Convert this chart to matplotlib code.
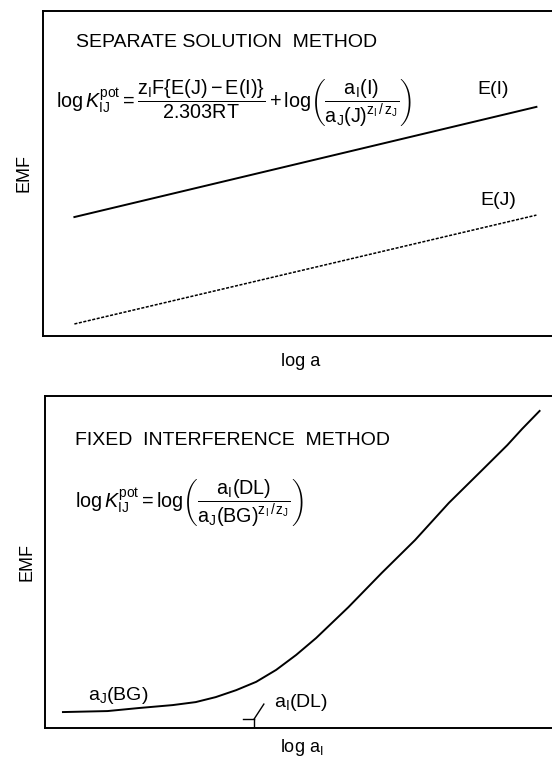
import matplotlib
matplotlib.use("Agg")
import matplotlib.pyplot as plt

plt.rcParams['font.family'] = ['Liberation Sans', 'DejaVu Sans']
plt.rcParams['mathtext.fontset'] = 'custom'
plt.rcParams['mathtext.rm'] = 'Liberation Sans'
plt.rcParams['mathtext.it'] = 'Liberation Sans:italic'
plt.rcParams['mathtext.bf'] = 'Liberation Sans:bold'

# separate solution method: two parallel response lines (log a vs EMF)
log_a = [0.61, 9.59]
emf_i = [3.66, 7.05]
emf_j = [0.37, 3.72]

# fixed interference method: response curve
log_ai = [0.35, 1.22, 1.82, 2.49, 2.94, 3.33, 3.73, 4.12, 4.51, 4.90,
          5.29, 5.92, 6.57, 7.22, 7.88, 8.53, 9.02, 9.31, 9.65]
emf_fim = [0.48, 0.51, 0.60, 0.69, 0.78, 0.93, 1.14, 1.39, 1.75, 2.20,
           2.71, 3.64, 4.67, 5.66, 6.78, 7.77, 8.52, 9.01, 9.55]

# detection limit a_I(DL) on the log a_I axis
dl_x = 4.08

fig = plt.figure(figsize=(5.52, 7.59), dpi=100)

W, H = 552, 759
ax1 = fig.add_axes([43 / W, 1 - 336 / H, 1 - 43 / W + 0.01, 325 / H])
ax2 = fig.add_axes([45 / W, 1 - 728 / H, 1 - 45 / W + 0.01, 332 / H])

for ax in (ax1, ax2):
    ax.set_xlim(0, 10)
    ax.set_ylim(0, 10)
    ax.set_xticks([])
    ax.set_yticks([])
    ax.spines['right'].set_visible(False)
    for s in ('left', 'top', 'bottom'):
        ax.spines[s].set_linewidth(1.4)
    ax.set_ylabel('EMF', fontsize=13, va='center')
    ax.yaxis.set_label_coords(-0.036, 0.5)

ax1.plot(log_a, emf_i, color='black', lw=1.4)
ax1.plot(log_a, emf_j, color='black', lw=1.1, ls=(0, (2, 1)))
ax1.set_xlabel('log a', fontsize=13, va='center')
ax1.xaxis.set_label_coords(0.5, -0.08)

ax1.text(0.65, 9.02, 'SEPARATE SOLUTION  METHOD', fontsize=14, va='center')
ax1.text(0.25, 7.17,
         r'$\mathrm{log}\,K_{\mathrm{IJ}}^{\mathrm{pot}}'
         r'=\dfrac{\mathrm{z_IF\{E(J)-E(I)\}}}{\mathrm{2.303RT}}'
         r'+\mathrm{log}\left(\dfrac{\mathrm{a_I(I)}}{\mathrm{a_J(J)^{z_I\,/\,z_J}}}\right)$',
         fontsize=14.2, va='center')
ax1.text(8.45, 7.57, 'E(I)', fontsize=14, va='center')
ax1.text(8.51, 4.18, 'E(J)', fontsize=14, va='center')

ax2.plot(log_ai, emf_fim, color='black', lw=1.4)
ax2.set_xlabel(r'log a$_\mathrm{I}$', fontsize=13, va='center')
ax2.xaxis.set_label_coords(0.5, -0.058)
ax2.text(0.59, 8.67, 'FIXED  INTERFERENCE  METHOD', fontsize=14, va='center')
ax2.text(0.59, 6.78,
         r'$\mathrm{log}\,K_{\mathrm{IJ}}^{\mathrm{pot}}'
         r'=\mathrm{log}\left(\dfrac{\mathrm{a_I(DL)}}{\mathrm{a_J(BG)^{z_I\,/\,z_J}}}\right)$',
         fontsize=14.2, va='center')
ax2.text(0.84, 0.99, r'a$_\mathrm{J}$(BG)', fontsize=14, va='center')
ax2.text(4.47, 0.78, r'a$_\mathrm{I}$(DL)', fontsize=14, va='center')

# detection limit marker
ax2.plot([dl_x - 0.22, dl_x], [0.27, 0.27], color='black', lw=1.0)
ax2.plot([dl_x, dl_x], [0.27, 0.03], color='black', lw=1.0)
ax2.plot([dl_x, dl_x + 0.19], [0.27, 0.72], color='black', lw=1.0)

fig.savefig('out.png', dpi=100)
